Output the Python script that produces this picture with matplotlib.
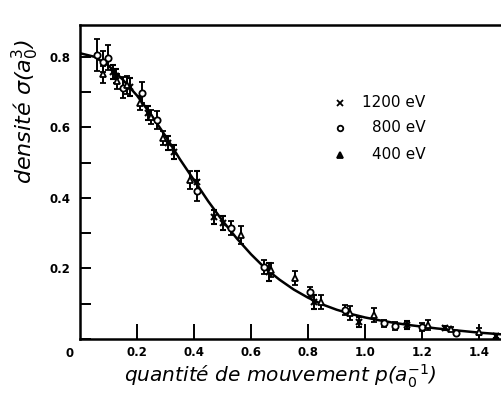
import matplotlib
matplotlib.use("Agg")
import matplotlib.pyplot as plt
from matplotlib.ticker import MultipleLocator
import numpy as np

# fitted curve
curve_p = [0.0, 0.05, 0.1, 0.15, 0.2, 0.25, 0.3, 0.35, 0.4, 0.45, 0.5, 0.55, 0.6,
           0.65, 0.7, 0.75, 0.8, 0.85, 0.9, 0.95, 1.0, 1.05, 1.1, 1.15, 1.2, 1.25,
           1.3, 1.35, 1.4, 1.45, 1.48]
curve_d = [0.81, 0.80, 0.775, 0.735, 0.69, 0.635, 0.575, 0.51, 0.45, 0.39, 0.335,
           0.285, 0.24, 0.20, 0.168, 0.14, 0.117, 0.098, 0.083, 0.071, 0.061, 0.053,
           0.046, 0.040, 0.035, 0.030, 0.026, 0.022, 0.018, 0.015, 0.013]

# 1200 eV (x)
p_1200 = [0.115, 0.125, 0.175, 0.24, 0.31, 0.33, 0.41, 0.47, 0.50, 0.663, 0.82, 0.98,
          1.147, 1.28, 1.46]
d_1200 = [0.757, 0.745, 0.715, 0.64, 0.555, 0.53, 0.445, 0.346, 0.33, 0.19, 0.105,
          0.048, 0.040, 0.031, 0.008]
e_1200 = [0.02, 0.02, 0.025, 0.02, 0.02, 0.02, 0.03, 0.02, 0.02, 0.025, 0.02, 0.015,
          0.012, 0.005, 0.005]

# 800 eV (o)
p_800 = [0.058, 0.08, 0.099, 0.152, 0.217, 0.27, 0.41, 0.53, 0.645, 0.807, 0.93,
         1.065, 1.105, 1.20, 1.32]
d_800 = [0.806, 0.786, 0.797, 0.712, 0.698, 0.62, 0.42, 0.315, 0.205, 0.133, 0.082,
         0.045, 0.037, 0.034, 0.017]
e_800 = [0.045, 0.03, 0.035, 0.03, 0.03, 0.025, 0.03, 0.02, 0.02, 0.015, 0.015,
         0.01, 0.012, 0.01, 0.004]

# 400 eV (triangle)
p_400 = [0.08, 0.13, 0.165, 0.21, 0.25, 0.29, 0.386, 0.565, 0.67, 0.755, 0.845,
         0.947, 1.03, 1.22, 1.30, 1.40]
d_400 = [0.75, 0.73, 0.72, 0.67, 0.63, 0.57, 0.45, 0.295, 0.195, 0.173, 0.105,
         0.073, 0.068, 0.040, 0.028, 0.020]
e_400 = [0.025, 0.02, 0.025, 0.02, 0.02, 0.02, 0.025, 0.025, 0.02, 0.02, 0.02,
         0.02, 0.02, 0.015, 0.005, 0.01]

legend_labels = ["1200 eV", "800 eV", "400 eV"]
x_ticks = [0.2, 0.4, 0.6, 0.8, 1.0, 1.2, 1.4]
y_ticks = [0.2, 0.4, 0.6, 0.8]

fig = plt.figure(figsize=(5.02, 3.96), dpi=100)
ax = fig.add_axes([80 / 502, 57 / 396, 422 / 502, 314 / 396])

ax.plot(curve_p, curve_d, color="black", lw=1.8, zorder=2)

err_kw = dict(ls="none", ecolor="black", elinewidth=1.4, capsize=2.2, capthick=1.4,
              color="black", zorder=3)
ax.errorbar(p_1200, d_1200, yerr=e_1200, marker="x", ms=4.5, mew=1.5, **err_kw)
ax.errorbar(p_800, d_800, yerr=e_800, marker="o", ms=4.5, mew=1.3,
            mfc="white", **err_kw)
ax.errorbar(p_400, d_400, yerr=e_400, marker="^", ms=4.5, mew=1.3,
            mfc="white", **err_kw)

ax.set_xlim(0, 1.48)
ax.set_ylim(0, 0.89)
ax.set_xticks(x_ticks)
ax.set_xticklabels([f"{v:.1f}" for v in x_ticks])
ax.set_yticks(y_ticks)
ax.set_yticklabels([f"{v:.1f}" for v in y_ticks])
ax.yaxis.set_minor_locator(MultipleLocator(0.1))
ax.tick_params(axis="both", which="both", direction="in", width=1.4,
               labelsize=8.5, color="black")
ax.tick_params(axis="x", length=11, pad=5)
ax.tick_params(axis="y", which="both", length=8, pad=7)
for lab in ax.get_xticklabels() + ax.get_yticklabels():
    lab.set_fontweight("bold")
ax.text(-0.035, -0.04, "0", fontsize=8.5, fontweight="bold", ha="center", va="center",
        transform=ax.transData, clip_on=False)

ax.spines["right"].set_visible(False)
for s in ["left", "bottom", "top"]:
    ax.spines[s].set_linewidth(1.8)

# legend drawn by hand so the labels line up on the right
leg_markers = ["x", "o", "^"]
leg_y = [0.752, 0.672, 0.586]
for m, lab, yy in zip(leg_markers, legend_labels, leg_y):
    ax.plot([0.616], [yy], marker=m, ms=4, mew=1.3, color="black",
            mfc="white" if m == "o" else "black", transform=ax.transAxes)
    ax.text(0.818, yy, lab, fontsize=11, ha="right", va="center",
            transform=ax.transAxes)

fig.text(280 / 502, 1 - 376 / 396, "quantité de mouvement $p$(a$_0^{-1}$)",
         fontsize=14.5, ha="center", va="center", style="italic")
fig.text(25 / 502, 1 - 112 / 396, "densité σ(a$_0^{3}$)", fontsize=16,
         ha="center", va="center", rotation=90, style="italic")

fig.savefig("out.png", dpi=100)
